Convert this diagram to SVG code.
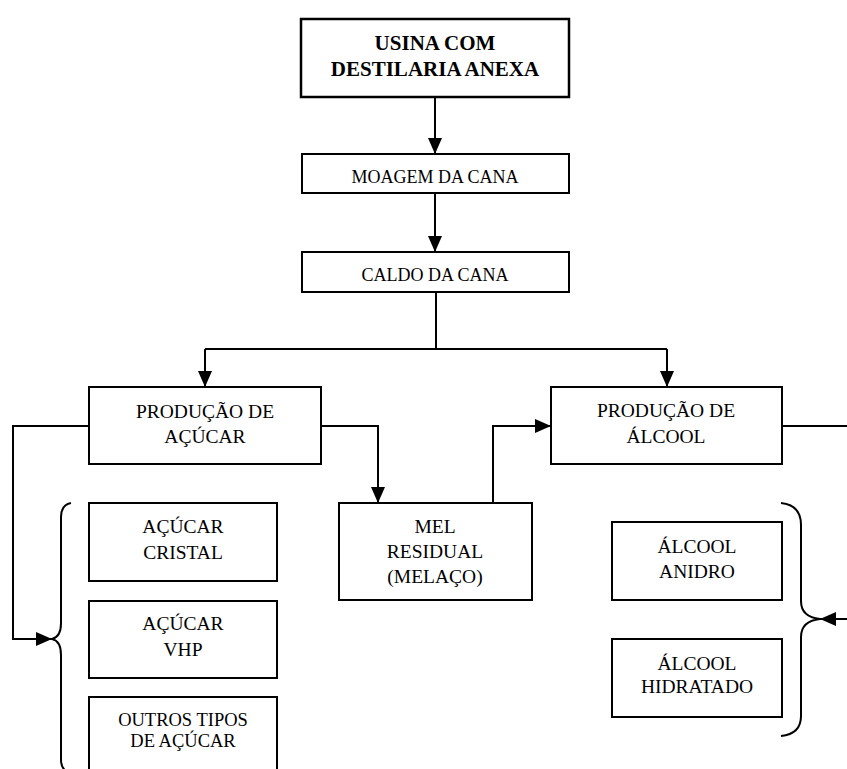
<svg xmlns="http://www.w3.org/2000/svg" width="847" height="769" viewBox="0 0 847 769">
<defs>
<style>
.box{fill:#fff;stroke:#000;stroke-width:2}
.bold{stroke-width:2.5}
text{font-family:"Liberation Serif","DejaVu Serif",serif;font-weight:normal;fill:#000;text-anchor:middle;font-size:19.5px}
.s{font-size:18px}
.o{font-size:18.5px}
.b{font-weight:bold;font-size:21px}
.c{fill:none;stroke:#000;stroke-width:2}
</style>
<marker id="ah" markerUnits="userSpaceOnUse" markerWidth="16" markerHeight="14" refX="16" refY="7" orient="auto">
<path d="M0,0 L16,7 L0,14 Z" fill="#000"/>
</marker>
</defs>
<rect width="847" height="769" fill="#fff"/>
<g id="connectors">
<path class="c" d="M435,97 V154" marker-end="url(#ah)"/>
<path class="c" d="M435,193 V252" marker-end="url(#ah)"/>
<path class="c" d="M436,292 V349"/>
<path class="c" d="M205,349 H667"/>
<path class="c" d="M205,349 V387" marker-end="url(#ah)"/>
<path class="c" d="M667,349 V387" marker-end="url(#ah)"/>
<path class="c" d="M89,426 H13 V639 H52" marker-end="url(#ah)"/>
<path class="c" d="M321,426 H378 V503" marker-end="url(#ah)"/>
<path class="c" d="M493,503 V426 H551" marker-end="url(#ah)"/>
<path class="c" d="M782,426 H848 V619 H820" marker-end="url(#ah)"/>
<path id="brace-left" class="c" d="M71,503 Q61,505 61,517 V623 Q61,637 52,639 Q61,641 61,655 V760 Q61,768 67,772"/>
<path id="brace-right" class="c" d="M781,503 Q801,505 801,525 V601 Q801,617 820,619 Q801,621 801,637 V716 Q801,734 781,736"/>
</g>
<g id="usina">
<rect class="box bold" x="301" y="19" width="268" height="78"/>
<text class="b" x="435" y="50">USINA COM</text>
<text class="b" x="435" y="76">DESTILARIA ANEXA</text>
</g>
<g id="moagem">
<rect class="box" x="302" y="154" width="267" height="39"/>
<text class="s" x="435" y="183">MOAGEM DA CANA</text>
</g>
<g id="caldo">
<rect class="box" x="302" y="252" width="267" height="40"/>
<text class="s" x="435" y="281">CALDO DA CANA</text>
</g>
<g id="producao-acucar">
<rect class="box" x="89" y="387" width="232" height="77"/>
<text x="205" y="418">PRODUÇÃO DE</text>
<text x="205" y="443">AÇÚCAR</text>
</g>
<g id="producao-alcool">
<rect class="box" x="551" y="387" width="231" height="77"/>
<text x="666" y="417">PRODUÇÃO DE</text>
<text x="666" y="443">ÁLCOOL</text>
</g>
<g id="mel">
<rect class="box" x="339" y="503" width="193" height="97"/>
<text x="435" y="533">MEL</text>
<text x="435" y="558">RESIDUAL</text>
<text x="435" y="583">(MELAÇO)</text>
</g>
<g id="acucar-cristal">
<rect class="box" x="89" y="503" width="188" height="78"/>
<text x="183" y="533">AÇÚCAR</text>
<text x="183" y="559">CRISTAL</text>
</g>
<g id="acucar-vhp">
<rect class="box" x="89" y="601" width="188" height="77"/>
<text x="183" y="630">AÇÚCAR</text>
<text x="183" y="656">VHP</text>
</g>
<g id="outros">
<rect class="box" x="89" y="697" width="188" height="78"/>
<text class="o" x="183" y="726">OUTROS TIPOS</text>
<text class="o" x="183" y="747">DE AÇÚCAR</text>
</g>
<g id="alcool-anidro">
<rect class="box" x="612" y="522" width="170" height="78"/>
<text x="697" y="553">ÁLCOOL</text>
<text x="697" y="578">ANIDRO</text>
</g>
<g id="alcool-hidratado">
<rect class="box" x="612" y="639" width="170" height="78"/>
<text x="697" y="670">ÁLCOOL</text>
<text x="697" y="693">HIDRATADO</text>
</g>
</svg>
